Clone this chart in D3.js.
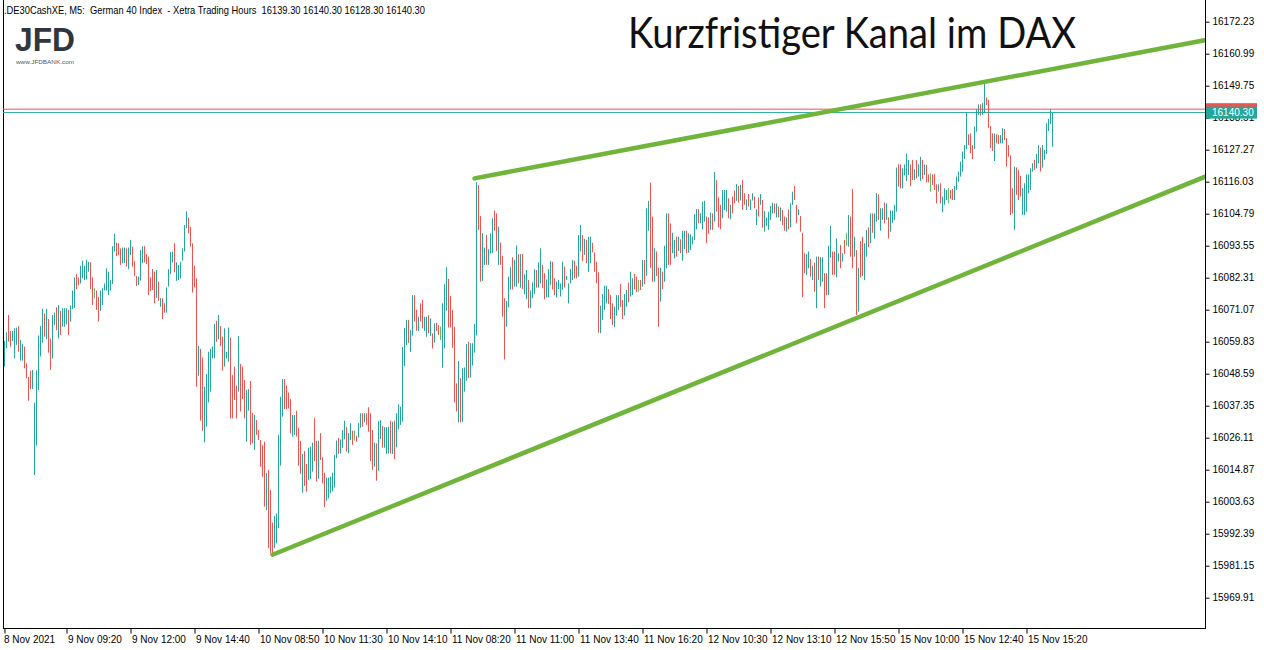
<!DOCTYPE html>
<html><head><meta charset="utf-8">
<script src="https://cdn.jsdelivr.net/npm/d3@7"></script>
<style>
html,body{margin:0;padding:0;background:#fff;overflow:hidden;}
svg{display:block;}
</style></head><body>
<svg id="c" width="1264" height="650"></svg>
<script>
// ---- data ----
const highs = [
16060.1,16063.1,16069.2,16063.6,16063.6,16064.5,16064.8,16065.3,16060.4,16059.0,
16058.1,16052.2,16047.5,16049.7,16049.9,16038.4,16049.7,16062.0,16065.3,16071.4,
16069.8,16071.4,16067.8,16061.0,16069.2,16070.1,16071.9,16072.7,16070.7,16071.6,
16071.6,16071.6,16071.0,16072.6,16077.8,16082.4,16083.6,16082.4,16086.5,16088.3,
16086.5,16088.5,16087.9,16087.7,16082.4,16078.6,16077.8,16075.6,16077.8,16078.6,
16080.3,16085.6,16084.4,16081.5,16093.4,16097.7,16094.6,16094.4,16092.6,16092.9,
16092.9,16092.6,16092.9,16095.6,16093.2,16088.2,16082.9,16082.7,16092.0,16093.4,
16093.4,16090.6,16089.7,16082.4,16085.4,16084.4,16085.0,16080.9,16075.1,16075.1,
16073.3,16078.9,16085.3,16091.3,16091.5,16094.4,16087.7,16086.8,16087.9,16092.6,
16100.8,16105.6,16103.4,16100.2,16094.4,16086.4,16082.1,16058.3,16057.3,16054.3,
16044.0,16048.5,16056.3,16057.3,16058.1,16066.0,16067.2,16069.2,16065.3,16061.6,
16064.5,16056.3,16064.8,16061.2,16048.1,16051.1,16044.4,16061.8,16052.0,16051.1,
16046.4,16042.9,16043.2,16046.0,16034.9,16034.1,16032.3,16028.8,16025.3,16023.6,
16024.7,16013.8,16014.8,16007.7,15996.3,15998.6,15999.5,16027.1,16040.5,16046.7,
16046.7,16044.5,16042.0,16039.7,16034.1,16034.1,16035.6,16029.6,16025.0,16020.4,
16021.4,16016.9,16022.6,16023.0,16024.4,16033.0,16025.0,16025.1,16027.7,16019.2,
16013.8,16012.1,16012.1,16012.4,16013.8,16020.0,16025.1,16026.0,16025.5,16028.8,
16032.1,16029.8,16027.7,16031.2,16028.6,16028.6,16026.8,16031.2,16034.7,16034.7,
16034.7,16034.7,16036.8,16034.7,16028.8,16024.4,16024.1,16032.0,16032.3,16030.2,
16029.8,16029.8,16030.0,16032.1,16031.7,16032.1,16034.7,16037.8,16037.0,16058.0,
16064.6,16067.5,16067.5,16063.9,16076.2,16076.2,16071.0,16068.6,16073.3,16074.5,
16068.6,16068.6,16069.2,16068.0,16062.8,16066.3,16066.5,16065.7,16065.1,16073.3,
16080.0,16086.0,16081.9,16075.9,16071.0,16065.1,16045.2,16053.1,16047.0,16050.5,
16050.8,16059.0,16059.8,16059.3,16059.3,16066.1,16115.8,16114.9,16104.0,16097.9,
16092.9,16097.3,16092.3,16097.9,16103.2,16105.9,16104.9,16100.2,16094.6,16089.9,
16075.1,16074.1,16082.7,16086.0,16089.5,16088.5,16093.6,16090.6,16090.6,16090.6,
16083.5,16085.0,16081.5,16077.8,16080.7,16085.3,16085.0,16087.7,16092.6,16086.8,
16083.9,16081.7,16085.3,16088.2,16087.9,16082.1,16080.9,16081.5,16080.3,16087.9,
16086.2,16082.9,16080.3,16085.4,16088.5,16088.3,16086.5,16097.3,16100.8,16097.3,
16095.9,16095.6,16096.7,16096.7,16094.6,16091.2,16087.9,16084.2,16072.5,16076.6,
16079.5,16079.5,16078.3,16076.2,16073.3,16072.1,16076.2,16076.2,16080.1,16074.5,
16076.6,16078.0,16080.6,16084.4,16082.1,16083.6,16082.7,16081.5,16081.5,16088.5,
16088.5,16106.7,16109.3,16115.7,16103.8,16092.6,16091.5,16085.8,16085.8,16084.4,
16093.5,16104.9,16104.9,16101.4,16098.1,16095.6,16096.7,16096.7,16095.8,16098.8,
16098.8,16098.8,16097.9,16097.5,16096.7,16104.7,16106.4,16106.4,16104.9,16109.0,
16109.3,16103.8,16103.5,16105.2,16104.9,16119.4,16116.6,16110.5,16107.9,16113.1,
16113.1,16113.1,16110.2,16107.9,16110.8,16112.9,16115.2,16114.5,16114.9,16116.6,
16112.0,16109.8,16111.7,16109.8,16112.0,16110.8,16106.4,16110.5,16111.7,16109.6,
16105.7,16103.4,16105.5,16107.5,16108.7,16108.4,16108.4,16107.3,16107.0,16106.1,
16103.8,16103.5,16106.3,16108.4,16112.5,16114.5,16107.9,16106.3,16104.0,16098.1,
16090.9,16090.6,16091.5,16088.9,16086.5,16087.6,16089.7,16089.7,16089.5,16089.5,
16083.9,16083.9,16093.5,16100.5,16091.5,16091.5,16096.1,16090.9,16093.8,16090.9,
16095.6,16098.1,16104.3,16103.8,16113.5,16096.7,16092.0,16085.8,16095.2,16096.7,
16094.4,16099.1,16100.0,16104.9,16104.9,16104.9,16112.0,16111.6,16106.7,16106.7,
16108.7,16108.4,16103.5,16105.9,16105.9,16107.9,16121.0,16122.1,16122.1,16120.7,
16122.1,16125.8,16123.7,16122.1,16123.7,16120.4,16123.7,16122.1,16124.8,16123.7,
16122.1,16121.9,16118.6,16119.0,16118.6,16118.7,16115.1,16115.1,16115.5,16110.8,
16113.7,16113.1,16113.7,16113.1,16113.5,16114.5,16117.8,16119.6,16123.1,16126.6,
16128.9,16140.4,16132.7,16133.0,16128.9,16135.4,16141.5,16143.2,16143.2,16143.6,
16150.9,16145.6,16144.7,16135.6,16133.0,16133.0,16132.7,16132.4,16132.4,16134.8,
16134.5,16131.3,16128.9,16125.2,16113.7,16121.3,16121.0,16120.1,16118.0,16113.7,
16115.5,16118.6,16118.6,16120.7,16122.5,16123.7,16125.8,16128.9,16128.0,16128.9,
16127.2,16136.5,16138.1,16141.5,16140.3
];
const lows = [
16051.1,16057.5,16059.8,16058.1,16060.1,16054.0,16058.7,16056.3,16053.2,16053.2,
16050.5,16047.0,16039.1,16043.2,16043.2,16013.0,16023.3,16042.9,16054.6,16059.5,
16061.6,16060.7,16056.0,16049.9,16053.9,16065.7,16063.9,16061.0,16062.2,16065.1,
16065.1,16066.0,16062.2,16066.9,16071.3,16071.6,16078.3,16079.7,16080.3,16082.1,
16081.5,16081.7,16084.4,16078.3,16072.7,16075.1,16071.0,16066.9,16070.7,16072.7,
16077.8,16077.8,16076.2,16077.8,16080.1,16091.5,16089.9,16090.3,16086.8,16087.4,
16087.4,16086.2,16085.3,16090.3,16086.2,16082.9,16079.4,16079.7,16081.3,16087.4,
16087.7,16087.1,16076.2,16077.6,16078.0,16073.3,16075.1,16074.2,16072.1,16067.8,
16070.0,16070.0,16079.2,16083.6,16087.7,16084.2,16081.2,16081.5,16082.1,16088.3,
16091.5,16099.7,16097.9,16093.2,16077.1,16078.9,16044.0,16047.9,16032.1,16028.6,
16024.5,16030.0,16038.5,16042.3,16054.0,16054.0,16059.8,16060.7,16058.3,16049.7,
16051.1,16054.0,16052.8,16032.9,16032.9,16039.4,16032.9,16042.3,16035.3,16039.7,
16032.9,16024.7,16035.6,16023.6,16024.1,16021.8,16027.1,16025.3,16015.9,16012.4,
16001.9,16000.7,15987.3,15985.5,15985.5,15987.3,15989.0,15994.3,16016.3,16033.5,
16036.2,16036.2,16036.4,16027.6,16026.5,16027.1,16026.5,16016.3,16013.4,16006.8,
16009.2,16007.2,16011.3,16011.6,16014.2,16017.9,16010.7,16011.7,16018.3,16010.1,
16001.7,16004.0,16004.8,16006.6,16007.2,16008.6,16018.9,16020.4,16020.6,16022.5,
16025.5,16021.2,16020.6,16025.3,16023.6,16025.1,16024.7,16026.2,16029.6,16030.0,
16031.5,16030.6,16028.2,16017.9,16014.8,16015.9,16011.0,16014.5,16025.7,16022.6,
16022.6,16020.4,16020.6,16020.6,16020.4,16018.5,16022.7,16029.1,16030.6,16031.7,
16051.3,16058.7,16059.3,16056.3,16062.0,16066.9,16063.7,16063.6,16066.9,16064.5,
16063.6,16061.6,16062.8,16061.8,16057.4,16059.5,16063.6,16062.2,16060.4,16050.7,
16057.5,16070.7,16064.8,16064.8,16057.7,16038.5,16035.3,16031.5,16031.5,16031.7,
16042.3,16046.1,16047.0,16047.3,16051.4,16056.0,16062.0,16099.1,16080.9,16081.2,
16086.8,16086.8,16086.8,16090.9,16090.9,16098.8,16091.7,16086.8,16086.8,16068.6,
16053.6,16065.1,16071.9,16078.2,16078.2,16079.2,16079.2,16080.3,16078.8,16078.3,
16076.5,16074.7,16071.6,16071.6,16075.1,16076.6,16078.8,16078.8,16080.3,16078.6,
16074.7,16075.4,16075.4,16079.8,16078.2,16076.2,16075.4,16078.3,16075.7,16078.0,
16078.9,16081.5,16073.3,16080.3,16081.5,16082.1,16082.1,16082.7,16091.5,16088.2,
16090.3,16087.4,16084.4,16087.4,16091.2,16084.4,16080.3,16063.0,16062.8,16067.5,
16071.0,16073.3,16073.1,16067.8,16065.7,16064.9,16069.0,16071.0,16072.1,16067.8,
16069.0,16072.1,16073.7,16075.7,16076.2,16078.2,16077.2,16077.4,16078.0,16079.2,
16080.1,16083.0,16098.8,16085.8,16080.9,16080.9,16082.9,16065.1,16073.9,16078.3,
16080.9,16085.6,16086.8,16086.8,16090.9,16089.1,16089.7,16091.7,16090.9,16088.3,
16092.4,16090.9,16091.1,16092.0,16094.0,16095.6,16099.3,16101.4,16101.4,16099.3,
16102.0,16094.4,16097.7,16099.1,16099.1,16102.0,16105.5,16100.0,16099.3,16103.2,
16106.1,16105.5,16103.2,16102.8,16104.9,16108.4,16109.3,16108.7,16109.4,16106.1,
16107.9,16106.1,16107.3,16106.1,16109.4,16106.7,16100.8,16103.8,16107.9,16099.9,
16098.5,16100.5,16099.1,16102.6,16104.9,16104.9,16103.5,16103.5,16102.2,16100.8,
16098.8,16098.5,16099.3,16100.0,16107.9,16109.6,16101.4,16104.3,16098.5,16075.4,
16083.9,16083.3,16085.6,16082.7,16081.5,16077.4,16071.6,16081.5,16079.2,16080.9,
16071.6,16076.2,16076.2,16089.4,16083.3,16083.3,16082.4,16088.0,16085.6,16088.0,
16090.6,16093.5,16093.2,16089.7,16085.6,16089.7,16069.2,16070.4,16082.4,16082.9,
16081.5,16089.7,16093.0,16094.4,16098.1,16096.1,16102.0,16102.6,16098.8,16102.6,
16101.4,16102.6,16096.1,16098.5,16101.6,16102.6,16105.5,16114.3,16113.7,16113.7,
16118.2,16116.3,16118.4,16114.5,16116.6,16116.6,16117.2,16117.8,16116.3,16116.9,
16118.4,16115.8,16115.8,16112.5,16114.9,16113.1,16108.4,16112.5,16108.4,16105.3,
16107.9,16109.6,16108.4,16110.0,16109.6,16109.6,16113.1,16116.0,16117.8,16119.6,
16124.0,16127.5,16128.9,16126.0,16124.0,16127.5,16133.6,16139.5,16139.2,16139.5,
16140.1,16143.0,16134.8,16127.8,16126.8,16123.3,16129.5,16129.3,16129.5,16129.5,
16130.7,16121.3,16124.8,16104.3,16104.9,16099.1,16111.4,16109.6,16110.8,16104.3,
16104.3,16105.5,16111.9,16113.1,16119.6,16120.1,16120.7,16122.5,16119.6,16121.0,
16123.7,16125.8,16133.8,16136.3,16128.3
];
// u = bullish bar, d = bearish bar, n = doji
const directions = (
"uudduuuduu"+"dddduuuuuu"+"dudduududu"+"uuduuudduu"+"uuuddndduu"+
"uuuuuudddu"+"uduuddduuu"+"ddddddudud"+"duuuuduuuu"+"uudddddudd"+
"uuuuuududd"+"uuuddddudd"+"duuddudddd"+"duddduuuuu"+"dddduudddu"+
"dduuuddudd"+"duuuuuuduu"+"uduudnduud"+"udddduduud"+"uuududuuuu"+
"uuduuddudd"+"uudududdnu"+"uudddddudu"+"uuduuuuddu"+"uduuuddudd"+
"duuuduudud"+"uuduuuduud"+"duuudduuuu"+"duuuudduud"+"uduudddduu"+
"uuddduuudd"+"uuduuddndu"+"duudduddud"+"uudduududu"+"uduuuuuduu"+
"uddududddu"+"uududdudud"+"duduududud"+"uuuuududud"+"duduuddudd"+
"duudududuu"+"dduudduudu"+"dnuddududd"+"uududuuduu"+"duduuuuddu"+
"uuudduduud"+"uddndddudu"+"uundduuuuu"+"uuddduuudu"+"uddddudduu"+
"dddddudddu"+"uuuuuduudu"+"uuuuu").split("");
const yTickValues = [16172.23,16160.99,16149.75,16138.51,16127.27,16116.03,16104.79,16093.55,16082.31,16071.07,16059.83,16048.59,16037.35,16026.11,16014.87,16003.63,15992.39,15981.15,15969.91];
const timeLabels = ["8 Nov 2021","9 Nov 09:20","9 Nov 12:00","9 Nov 14:40","10 Nov 08:50","10 Nov 11:30","10 Nov 14:10","11 Nov 08:20","11 Nov 11:00","11 Nov 13:40","11 Nov 16:20","12 Nov 10:30","12 Nov 13:10","12 Nov 15:50","15 Nov 10:00","15 Nov 12:40","15 Nov 15:20"];
const timeLabelBar = [0,31,63,95,127,159,191,223,255,287,319,351,383,415,447,479,511];
const lastPrice = 16140.30;
const askPrice = 16141.50;
const upperChannel = [[235,16117.2],[600,16165.7]];
const lowerChannel = [[134,15985.0],[600,16117.7]];
const headerText = ".DE30CashXE, M5:  German 40 Index  - Xetra Trading Hours  16139.30 16140.30 16128.30 16140.30";
const titleText = "Kurzfristiger Kanal im DAX";

// ---- drawing ----
const svg = d3.select("#c");
const W = 1264, H = 650;
const plotL = 3, plotR = 1205, plotB = 628;
const x = d3.scaleLinear().domain([0, 600]).range([4.5, 1204.5]);
const y = d3.scaleLinear().domain([15959.27, 16179.85]).range([plotB, 0]);
const colors = {u: "#26a69a", d: "#ef5350", n: "#66bb6a"};
const font = "'Liberation Sans', Arial, sans-serif";

svg.append("rect").attr("width", W).attr("height", H).attr("fill", "#fff");

svg.append("defs").append("clipPath").attr("id", "plot")
  .append("rect").attr("x", plotL).attr("y", 0).attr("width", plotR - plotL).attr("height", plotB);

// y axis (right)
const yAx = svg.append("g").attr("transform", `translate(${plotR + 0.5},0)`)
  .call(d3.axisRight(y).tickValues(yTickValues).tickSize(4).tickPadding(3).tickFormat(d3.format(".2f")));
yAx.select(".domain").remove();
yAx.selectAll("text").attr("font-family", font).attr("font-size", 10).attr("fill", "#000");
yAx.selectAll("line").attr("stroke", "#000");

// x axis (bottom)
const xAx = svg.append("g").attr("transform", `translate(0,${plotB + 0.5})`)
  .call(d3.axisBottom(x).tickValues(timeLabelBar).tickSize(5).tickPadding(2)
    .tickFormat((d, i) => timeLabels[i]));
xAx.select(".domain").remove();
xAx.selectAll("text").attr("font-family", font).attr("font-size", 10).attr("fill", "#000")
  .attr("text-anchor", "start").attr("dx", (d, i) => i === 0 ? -1 : 1);
xAx.selectAll("line").attr("stroke", "#000");

// frame
const frame = svg.append("g").attr("stroke", "#000").attr("stroke-width", 1).attr("shape-rendering", "crispEdges");
frame.append("line").attr("x1", plotL + 0.5).attr("x2", plotL + 0.5).attr("y1", 0).attr("y2", plotB + 0.5);
frame.append("line").attr("x1", plotR + 0.5).attr("x2", plotR + 0.5).attr("y1", 0).attr("y2", plotB + 0.5);
frame.append("line").attr("x1", plotL + 0.5).attr("x2", plotR + 0.5).attr("y1", plotB + 0.5).attr("y2", plotB + 0.5);

const plot = svg.append("g").attr("clip-path", "url(#plot)");

// bars
const bars = highs.map((h, i) => ({i, h, l: lows[i], d: directions[i]}));
plot.append("g").selectAll("line").data(bars).join("line")
  .attr("x1", d => x(d.i)).attr("x2", d => x(d.i))
  .attr("y1", d => y(d.h)).attr("y2", d => y(d.l))
  .attr("stroke", d => colors[d.d]).attr("stroke-width", 1);

// price lines
plot.append("line").attr("x1", plotL).attr("x2", plotR).attr("y1", y(askPrice)).attr("y2", y(askPrice))
  .attr("stroke", "#ef5350").attr("stroke-width", 1);
plot.append("line").attr("x1", plotL).attr("x2", plotR).attr("y1", y(lastPrice)).attr("y2", y(lastPrice))
  .attr("stroke", "#26a69a").attr("stroke-width", 1);

// channel lines
const lineGen = d3.line().x(d => x(d[0])).y(d => y(d[1]));
plot.selectAll("path.ch").data([upperChannel, lowerChannel]).join("path").attr("class", "ch")
  .attr("d", lineGen).attr("fill", "none").attr("stroke", "#70b43c")
  .attr("stroke-width", 4.5).attr("stroke-linecap", "round");

// price labels on axis
svg.append("rect").attr("x", plotR + 1).attr("y", y(askPrice) - 6).attr("width", 51).attr("height", 12).attr("fill", "#ef5350");
svg.append("rect").attr("x", plotR + 1).attr("y", y(lastPrice) - 6).attr("width", 51).attr("height", 12).attr("fill", "#26a69a");
svg.append("text").attr("x", plotR + 7).attr("y", y(lastPrice)).attr("dy", "0.35em")
  .attr("font-family", font).attr("font-size", 10).attr("fill", "#fff").text(d3.format(".2f")(lastPrice));

// header
svg.append("text").attr("x", 4).attr("y", 14).style("white-space", "pre")
  .attr("font-family", font).attr("font-size", 10.5).attr("fill", "#000")
  .attr("textLength", 421).attr("lengthAdjust", "spacingAndGlyphs").text(headerText);

// logo
svg.append("text").attr("x", 15).attr("y", 51).attr("font-family", font).attr("font-weight", "bold")
  .attr("font-size", 34).attr("fill", "#30363c").attr("textLength", 60).attr("lengthAdjust", "spacingAndGlyphs").text("JFD");
svg.append("text").attr("x", 16).attr("y", 64).attr("font-family", font)
  .attr("font-size", 6).attr("fill", "#555").attr("textLength", 58).attr("lengthAdjust", "spacingAndGlyphs").text("www.JFDBANK.com");

// title
svg.append("text").attr("x", 628).attr("y", 48).attr("font-family", "Lato, 'Open Sans', sans-serif")
  .attr("font-size", 42).attr("fill", "#111").attr("textLength", 448).attr("lengthAdjust", "spacingAndGlyphs").text(titleText);
</script>
</body></html>
